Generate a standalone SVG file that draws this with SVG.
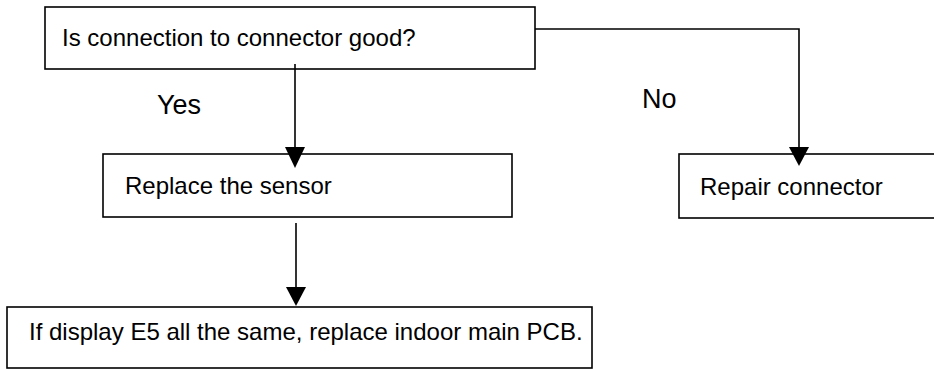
<svg xmlns="http://www.w3.org/2000/svg" width="934" height="369" viewBox="0 0 934 369">
<style>
.box{fill:#fff;stroke:#000;stroke-width:1.6}
.t{font-family:"Liberation Sans",Arial,sans-serif;font-size:24px;fill:#000}
.lbl{font-family:"Liberation Sans",Arial,sans-serif;font-size:27px;fill:#000}
.ln{fill:none;stroke:#000;stroke-width:1.6}
.ah{fill:#000;stroke:none}
</style>
<rect width="934" height="369" fill="#fff"/>
<g id="n1"><rect class="box" x="45" y="7" width="490" height="62"/><text class="t" x="62" y="46">Is connection to connector good?</text></g>
<g id="n2"><rect class="box" x="103" y="154" width="409" height="63"/><text class="t" x="125" y="194">Replace the sensor</text></g>
<g id="n3"><rect class="box" x="679" y="154" width="270" height="64"/><text class="t" x="700" y="195">Repair connector</text></g>
<g id="n4"><rect class="box" x="7" y="307" width="585" height="61"/><text class="t" x="29" y="340">If display E5 all the same, replace indoor main PCB.</text></g>
<g id="connectors">
<line class="ln" x1="295" y1="64" x2="295" y2="150"/>
<polygon class="ah" points="285,147 305,147 295,168"/>
<line class="ln" x1="296" y1="223" x2="296" y2="290"/>
<polygon class="ah" points="286,287 306,287 296,306"/>
<polyline class="ln" points="535,29 799,29 799,150"/>
<polygon class="ah" points="789,147 809,147 799,166"/>
<text class="lbl" x="157" y="114">Yes</text>
<text class="lbl" x="642" y="108">No</text>
</g>
</svg>
